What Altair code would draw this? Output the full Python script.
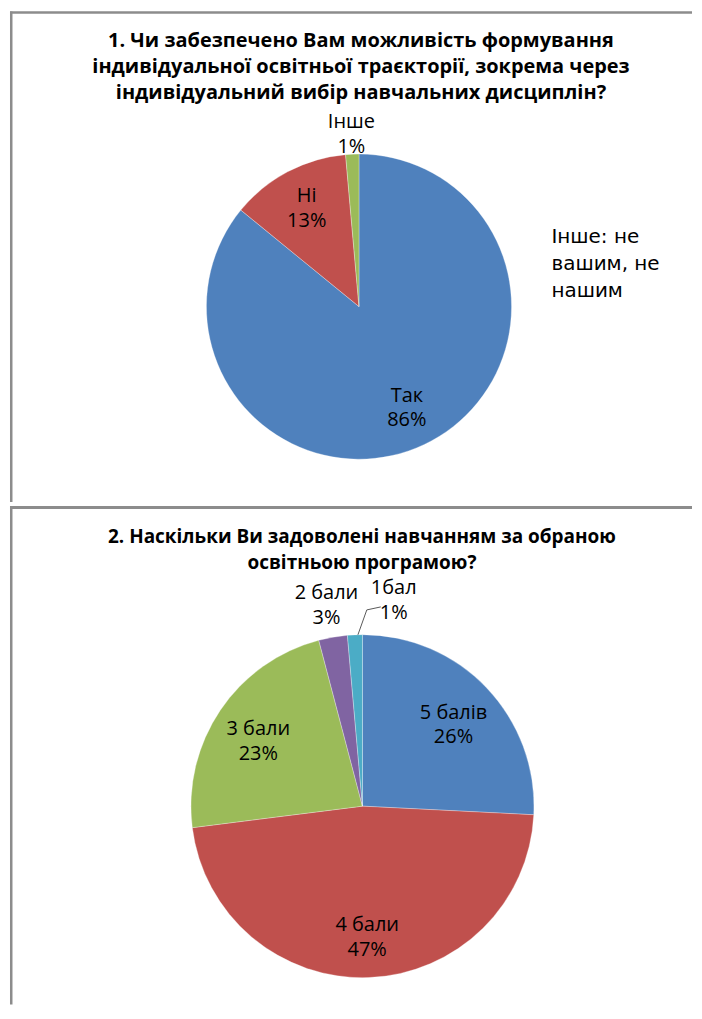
import math
import altair as alt
import pandas as pd

# ---------------- data ----------------
q1_title = [
    "1. Чи забезпечено Вам можливість формування",
    "індивідуальної освітньої траєкторії, зокрема через",
    "індивідуальний вибір навчальних дисциплін?",
]
q1_cats = ["Так", "Ні", "Інше"]
q1_vals = [85.9, 12.7, 1.4]
q1_note = ["Інше: не", "вашим, не", "нашим"]

q2_title = [
    "2. Наскільки Ви задоволені навчанням за обраною",
    "освітньою програмою?",
]
q2_cats = ["5 балів", "4 бали", "3 бали", "2 бали", "1бал"]
q2_vals = [25.8, 47.2, 22.9, 2.7, 1.4]

palette = ["#4F81BD", "#C0504D", "#9BBB59", "#8064A2", "#4BACC6"]

# ---------------- layout / style ----------------
W = 684
HA = 494
HB = 500
BORDER = "#8c8c8c"
LABEL_FONT = "Open Sans"
TITLE_FONT = "Open Sans"
dummy = pd.DataFrame({"k": [0]})

lab_style = dict(font=LABEL_FONT, fontSize=20, lineHeight=25, lineBreak="\n",
                 color="black", align="center", baseline="middle")


def rule(x, x2, y, y2, w):
    return alt.Chart(dummy).mark_rule(color=BORDER, strokeWidth=w).encode(
        x=alt.value(x), x2=alt.value(x2), y=alt.value(y), y2=alt.value(y2))


def text_block(lines, x, y, size, weight, font, align="center", lh=26):
    return alt.Chart(dummy).mark_text(
        align=align, baseline="middle", fontSize=size, fontWeight=weight,
        font=font, lineBreak="\n", lineHeight=lh, color="black"
    ).encode(x=alt.value(x), y=alt.value(y), text=alt.value("\n".join(lines)))


def pie_layers(cats, vals, cx, cy, r, r_in, r_out, dy, lead_below=0.0):
    df = pd.DataFrame({"cat": cats, "val": vals, "ord": list(range(len(cats)))})
    df["label"] = [f"{c}\n{round(v)}%" for c, v in zip(cats, vals)]
    th = alt.Theta("val:Q", stack=True)
    od = alt.Order("ord:Q")
    arcs = alt.Chart(df).mark_arc(outerRadius=r, stroke="white", strokeWidth=0.3).encode(
        theta=th, order=od,
        color=alt.Color("cat:N", scale=alt.Scale(domain=cats, range=palette[:len(cats)]),
                        legend=None),
        x=alt.value(cx), y=alt.value(cy),
    )
    txt = alt.Chart(df).transform_calculate(
        t_in="datum.val >= 5 ? datum.label : ''",
        t_out=f"(datum.val < 5 && datum.val >= {lead_below}) ? datum.label : ''",
    )
    lab_in = txt.mark_text(radius=r_in, dy=dy, **lab_style).encode(
        theta=th, order=od, detail="cat:N", text="t_in:N",
        x=alt.value(cx), y=alt.value(cy))
    lab_out = txt.mark_text(radius=r_out, dy=dy, **lab_style).encode(
        theta=th, order=od, detail="cat:N", text="t_out:N",
        x=alt.value(cx), y=alt.value(cy))
    layers = [arcs, lab_in, lab_out]

    if lead_below > 0:
        total = sum(vals)
        cum = 0.0
        pts, labs = [], []
        for c, v, lab in zip(cats, vals, df["label"]):
            mid = cum + v / 2
            cum += v
            if v < lead_below:
                a = 2 * math.pi * mid / total
                x0, y0 = cx + r * math.sin(a) + 3, cy - r * math.cos(a)
                x1, y1 = cx + (r + 25) * math.sin(a) + 13, cy - (r + 25) * math.cos(a)
                x2, y2 = x1 + 14, y1 - 3
                pts += [dict(cat=c, i=0, px=x0, py=y0), dict(cat=c, i=1, px=x1, py=y1),
                        dict(cat=c, i=2, px=x2, py=y2)]
                labs.append(dict(cat=c, label=lab, px=x2 + 13, py=y2 - 19))
        if pts:
            lead = alt.Chart(pd.DataFrame(pts)).mark_line(color="#595959", strokeWidth=1).encode(
                x=alt.X("px:Q", scale=None), y=alt.Y("py:Q", scale=None),
                order=alt.Order("i:Q"), detail="cat:N")
            lead_lab = alt.Chart(pd.DataFrame(labs)).mark_text(**lab_style).encode(
                x=alt.X("px:Q", scale=None), y=alt.Y("py:Q", scale=None), text="label:N")
            layers += [lead, lead_lab]
    return layers


# ---------------- panel 1 ----------------
panel1 = alt.layer(
    rule(0, W, 3, 3, 2.5),
    rule(1.25, 1.25, 2, HA, 2.5),
    text_block(q1_title, 352, 32, 20, "bold", TITLE_FONT),
    *pie_layers(q1_cats, q1_vals, 350, 298, 153, 112, 173, -12),
    text_block(q1_note, 543, 228, 20, "normal", "DejaVu Sans", align="left", lh=27),
).properties(width=W, height=HA)

# ---------------- panel 2 ----------------
panel2 = alt.layer(
    rule(0, W, 1.5, 1.5, 3),
    rule(1.25, 1.25, 0, HB, 2.5),
    text_block(q2_title, 353, 31, 19, "bold", TITLE_FONT),
    *pie_layers(q2_cats, q2_vals, 353.5, 301, 172, 126, 210, -7, lead_below=2.0),
).properties(width=W, height=HB)

chart = alt.vconcat(panel1, panel2, spacing=0).resolve_scale(
    color="independent", theta="independent"
).properties(padding=0, background="white").configure_view(stroke=None)

chart.save("out.html", embed_options={"renderer": "svg", "actions": False})
